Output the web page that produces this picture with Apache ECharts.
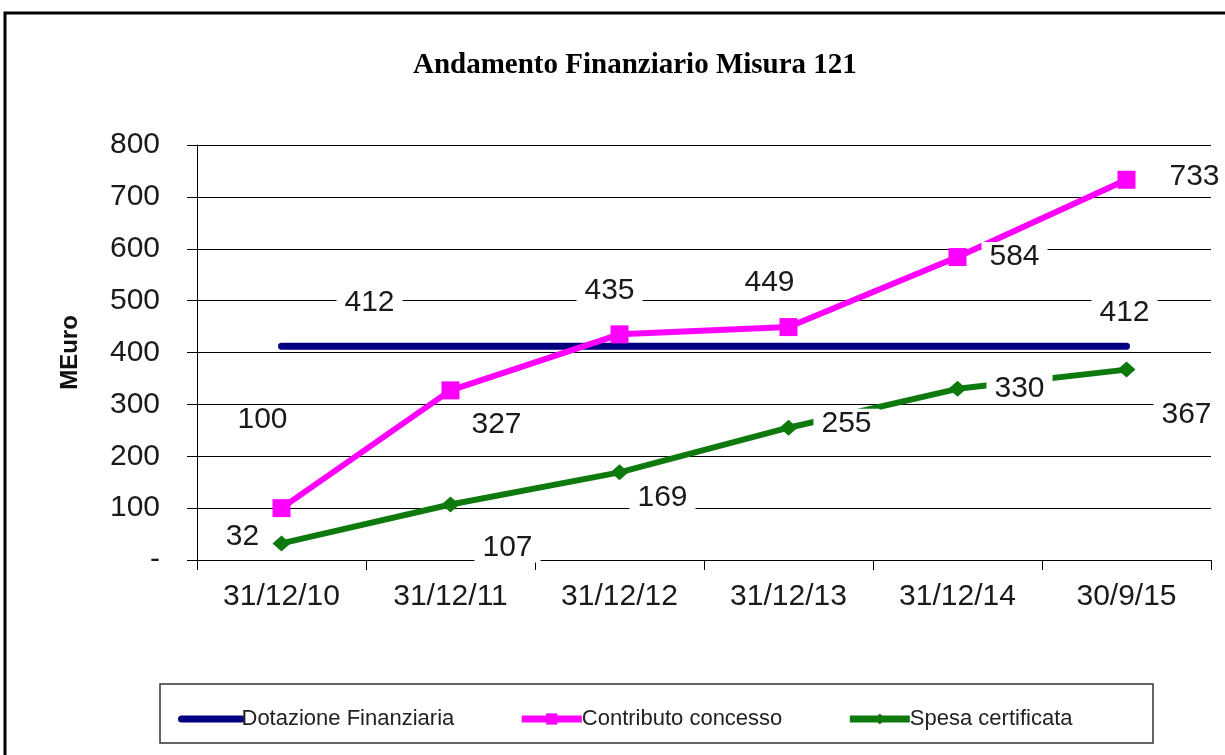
<!DOCTYPE html>
<html>
<head>
<meta charset="utf-8">
<script src="https://cdn.jsdelivr.net/npm/echarts@6/dist/echarts.min.js"></script>
<style>
  html, body { margin: 0; padding: 0; background: #fff; }
  #chart { width: 1225px; height: 755px; }
</style>
</head>
<body>
<div id="chart"></div>
<script>
// categorie (date)
const categories = ["31/12/10", "31/12/11", "31/12/12", "31/12/13", "31/12/14", "30/9/15"];
// valori in MEuro
const dotazione = [412, 412, 412, 412, 412, 412];
const contributo = [100, 327, 435, 449, 584, 733];
const spesa = [32, 107, 169, 255, 330, 367];

// spostamenti delle etichette (come nel grafico Excel originale)
const offDotazione = [[88, -44], null, null, null, null, [-2, -34]];
const offContributo = [[-19, -88], [46, 34], [-10, -44], [-19, -44], [57, 0], [68, -3]];
const offSpesa = [[-39, -7], [57, 43], [43, 25], [58, -4], [62, 0], [60, 45]];

const labelBase = {
  position: "inside",
  fontFamily: "Liberation Sans, Arial, sans-serif",
  fontSize: 30,
  color: "#1a1a1a",
  backgroundColor: "#fff",
  padding: [0, 8],
};

function withLabels(values, offsets) {
  return values.map((v, i) => {
    if (!offsets[i]) return { value: v, label: { show: false } };
    return { value: v, label: { show: true, offset: offsets[i] } };
  });
}

let myChart = echarts.init(document.getElementById("chart"));
let option = {
  animation: false,
  title: {
    text: "Andamento Finanziario Misura 121",
    left: 408,
    top: 46,
    textStyle: {
      fontFamily: "Liberation Serif, Times New Roman, serif",
      fontWeight: "bold",
      fontSize: 29,
      color: "#000",
    },
  },
  graphic: [
    {
      type: "rect",
      shape: { x: 5, y: 13, width: 1240, height: 760 },
      style: { fill: null, stroke: "#000", lineWidth: 3 },
      silent: true,
    },
    {
      type: "rect",
      shape: { x: 160, y: 684, width: 993, height: 59 },
      style: { fill: null, stroke: "#333", lineWidth: 1.5 },
      silent: true,
    },
  ],
  legend: {
    left: 173,
    top: 703,
    itemWidth: 60,
    itemHeight: 14,
    itemGap: 64,
    lineStyle: { width: 7 },
    textStyle: {
      fontFamily: "Liberation Sans Narrow, Arial Narrow, Liberation Sans, sans-serif",
      fontSize: 22,
      color: "#222",
      padding: [0, 0, 0, -5],
    },
    data: [
      { name: "Dotazione Finanziaria", itemStyle: { opacity: 0 } },
      "Contributo concesso",
      "Spesa certificata",
    ],
  },
  grid: { left: 197, right: 14, top: 145, bottom: 195 },
  xAxis: {
    type: "category",
    data: categories,
    boundaryGap: true,
    axisLine: { lineStyle: { color: "#000", width: 1 } },
    axisTick: { show: true, length: 10, lineStyle: { color: "#000" } },
    axisLabel: {
      fontFamily: "Liberation Sans, Arial, sans-serif",
      fontSize: 30,
      color: "#1a1a1a",
      margin: 22,
    },
  },
  yAxis: {
    type: "value",
    min: 0,
    max: 800,
    interval: 100,
    name: "MEuro",
    nameLocation: "middle",
    nameRotate: 90,
    nameGap: 115,
    nameTextStyle: {
      fontFamily: "Liberation Sans, Arial, sans-serif",
      fontWeight: "bold",
      fontSize: 24,
      color: "#111",
    },
    axisLine: { show: true, lineStyle: { color: "#000", width: 1 } },
    axisTick: { show: true, length: 10, lineStyle: { color: "#000" } },
    splitLine: { lineStyle: { color: "#000", width: 1 } },
    axisLabel: {
      fontFamily: "Liberation Sans, Arial, sans-serif",
      fontSize: 30,
      color: "#1a1a1a",
      margin: 37,
      formatter: (v) => (v === 0 ? "-" : String(v)),
    },
  },
  series: [
    {
      name: "Dotazione Finanziaria",
      type: "line",
      data: withLabels(dotazione, offDotazione),
      symbol: "circle",
      symbolSize: 0.1,
      lineStyle: { color: "#000080", width: 7, cap: "round" },
      itemStyle: { color: "#000080" },
      label: labelBase,
      z: 2,
    },
    {
      name: "Contributo concesso",
      type: "line",
      data: withLabels(contributo, offContributo),
      symbol: "rect",
      symbolSize: 18,
      lineStyle: { color: "#FF00FF", width: 6 },
      itemStyle: { color: "#FF00FF" },
      label: labelBase,
      z: 3,
    },
    {
      name: "Spesa certificata",
      type: "line",
      data: withLabels(spesa, offSpesa),
      symbol: "diamond",
      symbolSize: [18, 16],
      lineStyle: { color: "#0E7A0E", width: 6 },
      itemStyle: { color: "#0E7A0E" },
      label: labelBase,
      z: 3,
    },
  ],
};
option && myChart.setOption(option);
</script>
</body>
</html>
